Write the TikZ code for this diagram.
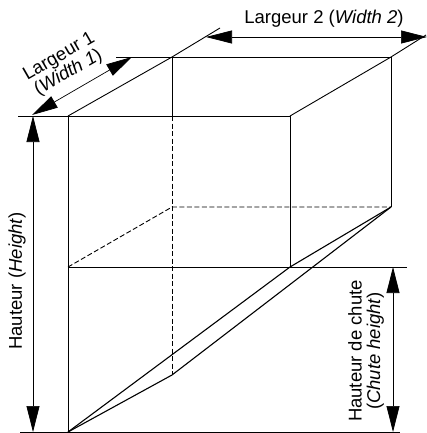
\documentclass[tikz,border=0pt]{standalone}
\usepackage{fontspec}
\setmainfont{Liberation Sans}
\usetikzlibrary{arrows.meta,positioning}

\tikzset{
  edgeline/.style={line width=0.9pt},
  chuteline/.style={line width=1.1pt,line join=round},
  hiddenline/.style={line width=0.9pt,dash pattern=on 5pt off 2.5pt},
  dimline/.style={line width=0.7pt,{Triangle[length=26pt,width=13pt]}-{Triangle[length=26pt,width=13pt]}},
  dimlabel/.style={font=\fontsize{18.5}{18.5}\selectfont,inner sep=0pt,align=center}
}

\begin{document}
\begin{tikzpicture}[x=1pt,y=-1pt]
  \useasboundingbox (0,0) rectangle (427,433);
  % box corners
  \coordinate (ftl) at (68,116);
  \coordinate (ftr) at (290,116);
  \coordinate (fbl) at (68,432);
  \coordinate (fmr) at (290,267);
  \coordinate (fml) at (68,267);
  \coordinate (btl) at (172,57);
  \coordinate (btr) at (391,57);
  \coordinate (bfl) at (172,116);
  \coordinate (bml) at (172,207);
  \coordinate (bmr) at (391,207);
  \coordinate (bbl) at (172,375);
  % ends of the reference lines
  \coordinate (topl) at (18,116);
  \coordinate (backl) at (116,57);
  \coordinate (botl) at (20,432);
  \coordinate (botr) at (400,432);
  \coordinate (midr) at (407,267);
  \coordinate (extl) at (220,28);
  \coordinate (extr) at (426,35);
  % arrow ends
  \coordinate (wa) at (32,115);
  \coordinate (wb) at (132,57);
  \coordinate (xa) at (206,37);
  \coordinate (xb) at (427,37);
  \coordinate (ha) at (33,116);
  \coordinate (hb) at (33,432);
  \coordinate (ca) at (393,267);
  \coordinate (cb) at (393,432);

  \draw[edgeline] (topl) -- (ftr) -- (fmr);
  \draw[edgeline] (backl) -- (btr) -- (bmr);
  \draw[edgeline] (ftl) -- (fbl);
  \draw[edgeline] (ftl) -- (btl) -- (extl);
  \draw[edgeline] (ftr) -- (btr) -- (extr);
  \draw[edgeline] (btl) -- (bfl);
  \draw[edgeline] (fml) -- (midr);
  \draw[edgeline] (botl) -- (botr);
  \draw[hiddenline] (bfl) -- (bbl);
  \draw[hiddenline] (fml) -- (bml) -- (bmr);
  \draw[chuteline] (fbl) -- (fmr) -- (bmr);
  \draw[chuteline] (fbl) -- (bbl) -- (bmr);

  \path[dimline]
  (wa) edge (wb)
  (xa) edge (xb)
  (ha) edge (hb)
  (ca) edge (cb);

  \node[dimlabel,rotate=30] (width1) at (64,65) {Largeur 1\\(\textit{Width 1})};
  \node[dimlabel] (width2) at (324,19) {Largeur 2 (\textit{Width 2})};
  \node[dimlabel,rotate=90] (height) at (17,281) {Hauteur (\textit{Height})};
  \node[dimlabel,rotate=90] (chute) at (366,351) {Hauteur de chute\\(\textit{Chute height})};
\end{tikzpicture}
\end{document}
